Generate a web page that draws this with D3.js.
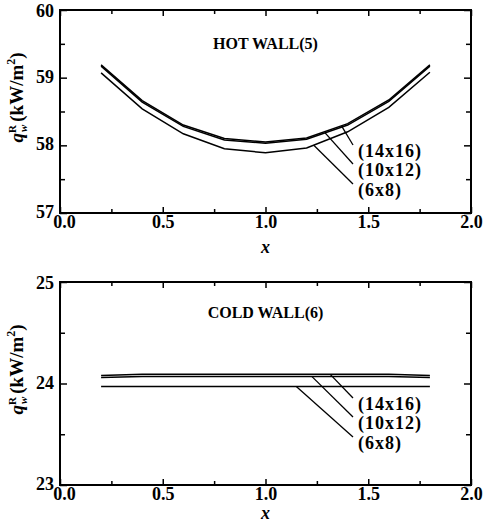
<!DOCTYPE html>
<html>
<head>
<meta charset="utf-8">
<script src="https://cdn.jsdelivr.net/npm/d3@7"></script>
<style>
  body { margin: 0; background: #fff; }
  text { font-family: "Liberation Serif", serif; font-weight: bold; fill: #000; }
</style>
</head>
<body>
<svg id="chart"></svg>
<script>
// grid positions along the wall
const xs = [0.2, 0.4, 0.6, 0.8, 1.0, 1.2, 1.4, 1.6, 1.8];
const meshes = ['(14x16)', '(10x12)', '(6x8)'];

// hot wall (5) radiative heat flux, kW/m2
const hot14x16 = [59.19, 58.66, 58.30, 58.10, 58.05, 58.11, 58.32, 58.67, 59.19];
const hot10x12 = [59.17, 58.64, 58.28, 58.08, 58.03, 58.09, 58.30, 58.65, 59.17];
const hot6x8 = [59.07, 58.54, 58.17, 57.95, 57.89, 57.96, 58.20, 58.56, 59.08];

// cold wall (6)
const cold14x16 = [24.08, 24.09, 24.09, 24.09, 24.09, 24.09, 24.09, 24.09, 24.08];
const cold10x12 = [24.06, 24.07, 24.07, 24.07, 24.07, 24.07, 24.07, 24.07, 24.06];
const cold6x8 = [23.97, 23.97, 23.97, 23.97, 23.97, 23.97, 23.97, 23.97, 23.97];

const xTicks = [0, 0.5, 1.0, 1.5, 2.0];
const xMinor = [0.25, 0.75, 1.25, 1.75];

const W = 483, H = 525;
const svg = d3.select('#chart').attr('width', W).attr('height', H);

function interp(vals, x) {
  let i = d3.bisectRight(xs, x) - 1;
  i = Math.max(0, Math.min(xs.length - 2, i));
  let t = (x - xs[i]) / (xs[i + 1] - xs[i]);
  return vals[i] + t * (vals[i + 1] - vals[i]);
}

function drawPanel(cfg) {
  let x = d3.scaleLinear().domain([0, 2]).range([60, 471]),
    y = d3.scaleLinear().domain(cfg.domain).range([cfg.bottom, cfg.top]);
  let g = svg.append('g');

  // inward ticks on all four sides
  let axes = [
    [d3.axisBottom(x).tickValues(xTicks).tickFormat(d3.format('.1f')).tickSize(-6).tickPadding(2), 'translate(0,' + cfg.bottom + ')', 'x'],
    [d3.axisBottom(x).tickValues(xMinor).tickFormat('').tickSize(-4), 'translate(0,' + cfg.bottom + ')'],
    [d3.axisTop(x).tickValues(xTicks).tickFormat('').tickSize(-6), 'translate(0,' + cfg.top + ')'],
    [d3.axisTop(x).tickValues(xMinor).tickFormat('').tickSize(-4), 'translate(0,' + cfg.top + ')'],
    [d3.axisLeft(y).tickValues(cfg.yTicks).tickFormat(d3.format('d')).tickSize(-7).tickPadding(6), 'translate(60,0)', 'y'],
    [d3.axisLeft(y).tickValues(cfg.yMinor).tickFormat('').tickSize(-5), 'translate(60,0)'],
    [d3.axisRight(y).tickValues(cfg.yTicks).tickFormat('').tickSize(-7), 'translate(471,0)'],
    [d3.axisRight(y).tickValues(cfg.yMinor).tickFormat('').tickSize(-5), 'translate(471,0)']
  ];
  axes.forEach(a => {
    let ax = g.append('g').attr('transform', a[1]).call(a[0]);
    ax.select('.domain').remove();
    ax.selectAll('line').attr('stroke', '#000').attr('stroke-width', 1.5);
    ax.selectAll('text').style('font-size', '18px').attr('fill', '#000');
    if (a[2] === 'y') ax.selectAll('text').attr('dy', d => d === cfg.domain[1] ? '0.38em' : '0.25em');
    if (a[2] === 'x') ax.selectAll('text').filter(d => d === 0).attr('dx', 4);
  });

  g.append('rect')
    .attr('x', 60).attr('y', cfg.top)
    .attr('width', 411).attr('height', cfg.bottom - cfg.top)
    .attr('fill', 'none').attr('stroke', '#000').attr('stroke-width', 2);

  let line = d3.line().x((d, i) => x(xs[i])).y(d => y(d));
  g.selectAll('.curve')
    .data(cfg.series)
    .enter()
    .append('path')
    .attr('d', d => line(d))
    .attr('fill', 'none')
    .attr('stroke', '#000')
    .attr('stroke-width', 1.5);

  // leader lines and mesh labels
  cfg.series.forEach((s, i) => {
    let x0 = x(cfg.leadX[i]), y0 = y(interp(s, cfg.leadX[i]));
    let ly = cfg.top + cfg.labelOff[i];
    g.append('line')
      .attr('x1', x0).attr('y1', y0)
      .attr('x2', 353).attr('y2', ly - 6)
      .attr('stroke', '#000').attr('stroke-width', 1.3);
    g.append('text')
      .attr('x', 358).attr('y', ly)
      .attr('dy', '0.35em')
      .style('font-size', '18px')
      .style('letter-spacing', '1px')
      .text(meshes[i]);
  });

  g.append('text')
    .attr('x', x(1.0)).attr('y', cfg.top + cfg.titleOff)
    .attr('dy', '0.35em')
    .attr('text-anchor', 'middle')
    .style('font-size', '16px')
    .text(cfg.title);

  g.append('text')
    .attr('x', x(1.0)).attr('y', cfg.bottom + cfg.xLabOff)
    .attr('dy', '0.35em')
    .attr('text-anchor', 'middle')
    .style('font-size', '18px')
    .style('font-style', 'italic')
    .text('x');

  // y axis title: q^R_w (kW/m^2)
  let yl = g.append('text')
    .attr('transform', 'translate(23,' + ((cfg.top + cfg.bottom) / 2 - 14) + ') rotate(-90)')
    .attr('text-anchor', 'middle')
    .style('font-size', '19px');
  yl.append('tspan').style('font-style', 'italic').text('q');
  yl.append('tspan').attr('dy', -7).style('font-size', '11px').text('R');
  yl.append('tspan').attr('dx', -7).attr('dy', 11).style('font-size', '11px').style('font-style', 'italic').text('w');
  yl.append('tspan').attr('dy', -4).attr('dx', 3).text('(kW/m');
  yl.append('tspan').attr('dy', -8).style('font-size', '12px').text('2');
  yl.append('tspan').attr('dy', 8).text(')');
}

drawPanel({
  top: 10, bottom: 213, domain: [57, 60],
  yTicks: [57, 58, 59, 60], yMinor: [57.5, 58.5, 59.5],
  series: [hot14x16, hot10x12, hot6x8],
  leadX: [1.37, 1.29, 1.235],
  labelOff: [141, 160, 180],
  title: 'HOT WALL(5)', titleOff: 33, xLabOff: 34
});

drawPanel({
  top: 282, bottom: 485, domain: [23, 25],
  yTicks: [23, 24, 25], yMinor: [23.5, 24.5],
  series: [cold14x16, cold10x12, cold6x8],
  leadX: [1.315, 1.225, 1.15],
  labelOff: [122, 141, 161],
  title: 'COLD WALL(6)', titleOff: 30, xLabOff: 28
});
</script>
</body>
</html>
